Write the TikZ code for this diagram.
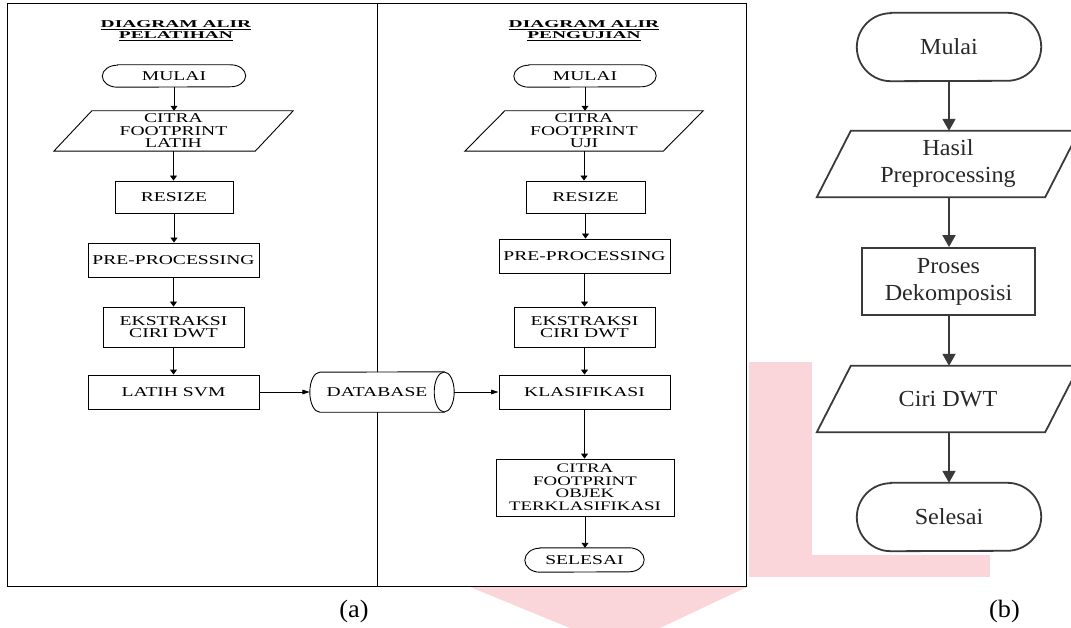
\documentclass[tikz,border=0pt]{standalone}
\usepackage{fontspec}
\setmainfont{Liberation Serif}
\newfontfamily\flowfont[FakeStretch=1.45]{Liberation Serif}
\newfontfamily\headfont[FakeStretch=1.85]{Liberation Serif}
\newfontfamily\stepfont[FakeStretch=1.05]{Liberation Serif}
\usetikzlibrary{arrows.meta,calc}

\definecolor{inkb}{RGB}{58,58,58}
\definecolor{txtb}{RGB}{40,40,40}
\definecolor{tint}{RGB}{250,213,217}

% terminator outline around a named node: style, node, x radius, y radius
\newcommand\flowcapsule[4]{%
  \draw[#1] ([xshift=#3]#2.north west) -- ([xshift=-#3]#2.north east)
    arc[start angle=-90,end angle=90,x radius=#3,y radius=#4]
    -- ([xshift=#3]#2.south west)
    arc[start angle=90,end angle=270,x radius=#3,y radius=#4] -- cycle;}
% input/output parallelogram around a named node: style, node, slant
\newcommand\flowslant[3]{%
  \draw[#1] ([xshift=#3]#2.north west) -- (#2.north east)
    -- ([xshift=-#3]#2.south east) -- (#2.south west) -- cycle;}

\begin{document}
\begin{tikzpicture}[x=1pt,y=-1pt,
  box/.style={draw, line width=0.9pt, inner sep=0pt, align=center,
    font=\flowfont\fontsize{13.5}{12}\selectfont},
  bare/.style={inner sep=0pt, align=center,
    font=\flowfont\fontsize{13.5}{12}\selectfont},
  head/.style={inner sep=0pt, align=center,
    font=\headfont\bfseries\fontsize{10.5}{11}\selectfont},
  flowline/.style={line width=0.9pt},
  downarrow/.style={flowline, -{Triangle[length=5pt,width=7pt]}},
  sidearrow/.style={flowline, -{Triangle[length=7.5pt,width=4.7pt]}},
  bbox/.style={draw=inkb, line width=1.8pt, text=txtb, inner sep=0pt,
    align=center, font=\stepfont\fontsize{23}{27}\selectfont},
  bbare/.style={text=txtb, inner sep=0pt, align=center,
    font=\stepfont\fontsize{23}{27}\selectfont},
  bline/.style={draw=inkb, line width=1.8pt},
  barrow/.style={bline, -{Triangle[length=12pt,width=13pt]}},
  caption/.style={inner sep=0pt, font=\stepfont\fontsize{25}{28}\selectfont},
]
\useasboundingbox (0,0) rectangle (1071,628);
\clip (0,0) rectangle (1071,628);

% pale red backdrop shapes
\fill[tint] (749,362) rectangle (812,577);
\fill[tint] (749,555) rectangle (990,577);
\fill[tint] (470,587) -- (747,587) -- (660,628) -- (570,628) -- cycle;

% frame of panel (a) with its two lanes
\draw[line width=1pt] (7,4) rectangle (746,586);
\draw[line width=1pt] (377,4) -- (377,586);

% ---- training lane ----
\node[head] (lhead) at (176,31) {\underline{DIAGRAM ALIR}\\\underline{PELATIHAN}};
\node[bare, minimum width=143, minimum height=22] (lmulai) at (174,76) {MULAI};
\node[bare, minimum width=239, minimum height=40,
  font=\flowfont\fontsize{13.5}{12.5}\selectfont] (lcitra) at (173.5,131) {CITRA\\FOOTPRINT\\LATIH};
\node[box, minimum width=118, minimum height=32] (lresize) at (174,197) {RESIZE};
\node[box, minimum width=171, minimum height=34] (lpre) at (173.5,260) {PRE-PROCESSING};
\node[box, minimum width=141, minimum height=40] (leks) at (173.5,327) {EKSTRAKSI\\CIRI DWT};
\node[box, minimum width=171, minimum height=34] (lsvm) at (173.5,392) {LATIH SVM};

\flowcapsule{flowline}{lmulai}{15}{11}
\flowslant{flowline}{lcitra}{38}

% ---- database: horizontal drum, painted over the lane divider ----
\node[bare, minimum width=134, minimum height=40] (db) at (377,392) {};
\filldraw[flowline, fill=white] ([xshift=10]db.south west)
  arc[start angle=90,end angle=270,x radius=10,y radius=20]
  -- (db.north east) -- (db.south east) -- cycle;
\filldraw[flowline, fill=white] (db.east) ellipse[x radius=10,y radius=20];
\node[bare] (dbtext) at (db.center) {DATABASE};

% ---- testing lane ----
\node[head] (rhead) at (584,31) {\underline{DIAGRAM ALIR}\\\underline{PENGUJIAN}};
\node[bare, minimum width=142, minimum height=22] (rmulai) at (585,76) {MULAI};
\node[bare, minimum width=238, minimum height=40,
  font=\flowfont\fontsize{13.5}{12.5}\selectfont] (rcitra) at (584,131) {CITRA\\FOOTPRINT\\UJI};
\node[box, minimum width=119, minimum height=32] (rresize) at (585.5,197) {RESIZE};
\node[box, minimum width=171, minimum height=34] (rpre) at (584.5,256) {PRE-PROCESSING};
\node[box, minimum width=141, minimum height=40] (reks) at (584.5,327) {EKSTRAKSI\\CIRI DWT};
\node[box, minimum width=171, minimum height=34] (rkla) at (584.5,392) {KLASIFIKASI};
\node[box, minimum width=178, minimum height=57,
  font=\flowfont\fontsize{13}{12.5}\selectfont] (robj) at (585,487.5) {CITRA\\FOOTPRINT\\OBJEK\\TERKLASIFIKASI};
\node[bare, minimum width=119, minimum height=24] (rsel) at (584.5,560) {SELESAI};

\flowcapsule{flowline}{rmulai}{15}{11}
\flowslant{flowline}{rcitra}{40}
\flowcapsule{flowline}{rsel}{15}{12}

% connectors of panel (a)
\draw[downarrow] (lmulai.south) -- (lmulai.south |- lcitra.north);
\draw[downarrow] (lcitra.south) -- (lcitra.south |- lresize.north);
\draw[downarrow] (lresize.south) -- (lresize.south |- lpre.north);
\draw[downarrow] (lpre.south) -- (lpre.south |- leks.north);
\draw[downarrow] (leks.south) -- (leks.south |- lsvm.north);
\draw[sidearrow] (lsvm.east) -- (db.west);
\draw[sidearrow] ([xshift=10]db.east) -- (rkla.west);
\draw[downarrow] (rmulai.south) -- (rmulai.south |- rcitra.north);
\draw[downarrow] (rcitra.south) -- (rcitra.south |- rresize.north);
\draw[downarrow] (rresize.south) -- (rresize.south |- rpre.north);
\draw[downarrow] (rpre.south) -- (rpre.south |- reks.north);
\draw[downarrow] (reks.south) -- (reks.south |- rkla.north);
\draw[downarrow] (rkla.south) -- (rkla.south |- robj.north);
\draw[downarrow] (robj.south) -- (robj.south |- rsel.north);

% ---- panel (b) ----
\node[bbare, minimum width=184, minimum height=68] (bmulai) at (949,47) {Mulai};
\node[bbare, minimum width=262, minimum height=66] (bhasil) at (948,164) {Hasil\\Preprocessing};
\node[bbox, minimum width=173, minimum height=67] (bproses) at (948.5,281.5) {Proses\\Dekomposisi};
\node[bbare, minimum width=262, minimum height=66] (bciri) at (948,399) {Ciri DWT};
\node[bbare, minimum width=184, minimum height=68] (bsel) at (949,517) {Selesai};

\flowcapsule{bline}{bmulai}{34}{34}
\flowslant{bline}{bhasil}{34}
\flowslant{bline}{bciri}{34}
\flowcapsule{bline}{bsel}{34}{34}

\draw[barrow] (bmulai.south) -- (bmulai.south |- bhasil.north);
\draw[barrow] (bhasil.south -| bmulai.south) -- (bmulai.south |- bproses.north);
\draw[barrow] (bproses.south -| bmulai.south) -- (bmulai.south |- bciri.north);
\draw[barrow] (bciri.south -| bmulai.south) -- (bmulai.south |- bsel.north);

% captions
\node[caption] (capa) at (354,611) {(a)};
\node[caption] (capb) at (1004.5,611) {(b)};
\end{tikzpicture}
\end{document}
